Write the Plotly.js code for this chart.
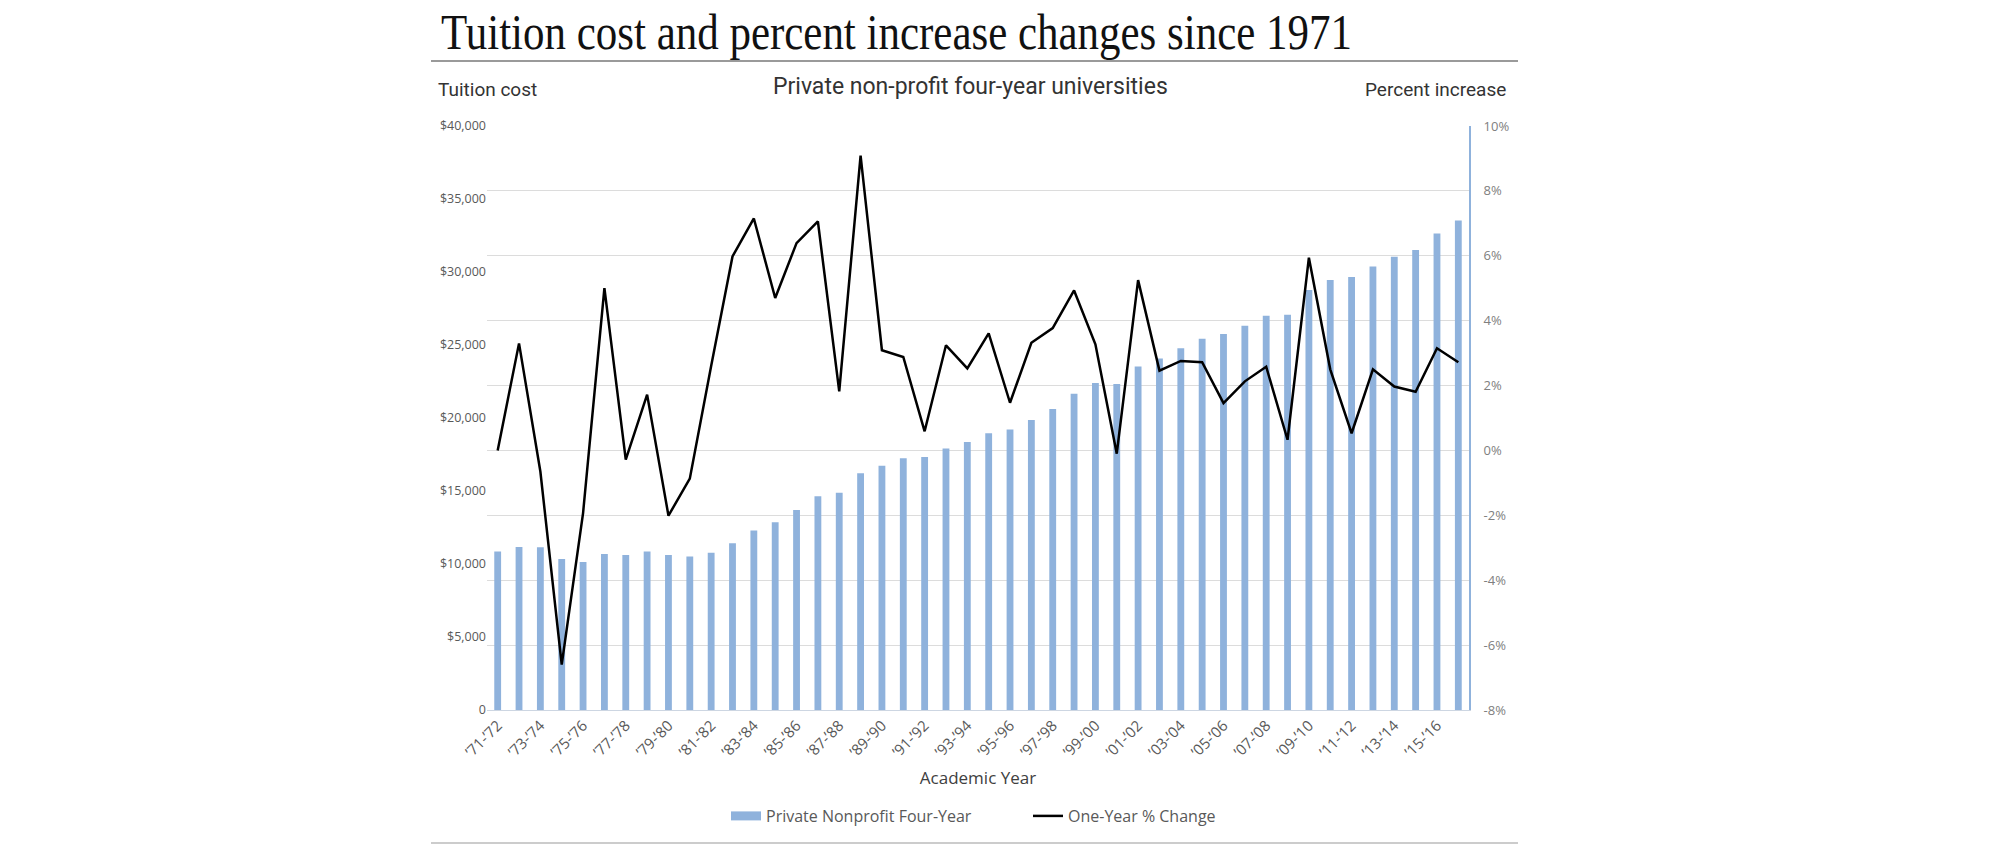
<!DOCTYPE html>
<html>
<head>
<meta charset="utf-8">
<script src="https://cdn.plot.ly/plotly-3.0.1.min.js"></script>
<style>
html,body{margin:0;padding:0;background:#fff;}
#chart{width:2000px;height:846px;}
</style>
</head>
<body>
<div id="chart"></div>
<script>
// ---------- data ----------
const categories = [
  "’71-’72","’72-’73","’73-’74","’74-’75","’75-’76","’76-’77","’77-’78","’78-’79","’79-’80","’80-’81",
  "’81-’82","’82-’83","’83-’84","’84-’85","’85-’86","’86-’87","’87-’88","’88-’89","’89-’90","’90-’91",
  "’91-’92","’92-’93","’93-’94","’94-’95","’95-’96","’96-’97","’97-’98","’98-’99","’99-’00","’00-’01",
  "’01-’02","’02-’03","’03-’04","’04-’05","’05-’06","’06-’07","’07-’08","’08-’09","’09-’10","’10-’11",
  "’11-’12","’12-’13","’13-’14","’14-’15","’15-’16","’16-’17"
];
const tuitionCost = [
  10850, 11160, 11140, 10350, 10140, 10690, 10610, 10850, 10610, 10510,
  10770, 11420, 12290, 12860, 13700, 14640, 14880, 16210, 16730, 17250,
  17330, 17910, 18350, 18950, 19220, 19870, 20620, 21660, 22390, 22330,
  23520, 24070, 24780, 25420, 25750, 26310, 27000, 27070, 28760, 29460,
  29650, 30380, 31050, 31500, 32640, 33520
];
const percentChange = [
  0.0, 3.3, -0.65, -6.6, -1.93, 5.0, -0.28, 1.72, -2.01, -0.87,
  2.6, 5.98, 7.15, 4.7, 6.39, 7.06, 1.82, 9.09, 3.09, 2.88,
  0.59, 3.24, 2.53, 3.61, 1.47, 3.32, 3.77, 4.93, 3.27, -0.1,
  5.25, 2.46, 2.76, 2.72, 1.46, 2.13, 2.58, 0.33, 5.94, 2.5,
  0.53, 2.5, 1.97, 1.81, 3.15, 2.72
];
const xTickLabels = [
  "’71-’72","’73-’74","’75-’76","’77-’78","’79-’80","’81-’82","’83-’84","’85-’86","’87-’88","’89-’90",
  "’91-’92","’93-’94","’95-’96","’97-’98","’99-’00","’01-’02","’03-’04","’05-’06","’07-’08","’09-’10",
  "’11-’12","’13-’14","’15-’16"
];
const leftTickVals = [0, 5000, 10000, 15000, 20000, 25000, 30000, 35000, 40000];
const leftTickText = ["0", "$5,000", "$10,000", "$15,000", "$20,000", "$25,000", "$30,000", "$35,000", "$40,000"];
const rightTickVals = [-8, -6, -4, -2, 0, 2, 4, 6, 8, 10];
const rightTickText = ["-8%", "-6%", "-4%", "-2%", "0%", "2%", "4%", "6%", "8%", "10%"];

// ---------- geometry ----------
const W = 2000, H = 846;
const L = 487, R = 1469, T = 126, B = 710;
const px = X => (X - L) / (R - L);
const py = Y => (B - Y) / (B - T);

const sansNarrow = '"Liberation Sans Narrow", "Arial Narrow", "Roboto", sans-serif';
const sans = '"Open Sans", "Noto Sans", sans-serif';

const data = [
  {
    type: 'bar',
    x: categories,
    y: tuitionCost,
    name: 'Private Nonprofit Four-Year',
    marker: {color: '#8fb2dc'},
    yaxis: 'y',
    hoverinfo: 'skip'
  },
  {
    type: 'scatter',
    mode: 'lines',
    x: categories,
    y: percentChange,
    name: 'One-Year % Change',
    line: {color: '#000000', width: 2.5},
    yaxis: 'y2',
    hoverinfo: 'skip'
  }
];

const layout = {
  width: W, height: H,
  margin: {l: L, r: W - R, t: T, b: H - B, pad: 0},
  paper_bgcolor: '#ffffff',
  plot_bgcolor: '#ffffff',
  font: {family: sans, color: '#595959'},
  showlegend: true,
  bargap: 0.68,
  title: {
    text: 'Tuition cost and percent increase changes since 1971',
    font: {family: '"Liberation Serif", "DejaVu Serif", serif', size: 50, color: '#111111'},
    xref: 'container', yref: 'container',
    x: 441 / W, xanchor: 'left',
    y: 1 - 31.5 / H, yanchor: 'middle'
  },
  xaxis: {
    type: 'category',
    range: [-0.5, categories.length - 0.5],
    tickmode: 'array',
    tickvals: xTickLabels,
    ticktext: xTickLabels,
    tickangle: -45,
    tickfont: {family: sans, size: 15, color: '#595959'},
    showgrid: false,
    zeroline: false,
    showline: true,
    linecolor: '#cdd6e2',
    linewidth: 1,
    ticks: '',
    title: {text: 'Academic Year', standoff: 12, font: {family: sans, size: 17, color: '#404040'}},
    fixedrange: true
  },
  yaxis: {
    range: [0, 40000],
    tickmode: 'array',
    tickvals: leftTickVals,
    ticktext: leftTickText,
    showgrid: false,
    zeroline: false,
    showline: false,
    ticks: '',
    tickfont: {family: sans, size: 12.5, color: '#595959'},
    fixedrange: true
  },
  yaxis2: {
    overlaying: 'y',
    side: 'right',
    range: [-8, 10],
    tickmode: 'array',
    tickvals: rightTickVals,
    ticktext: rightTickText,
    showgrid: true,
    gridcolor: '#dcdcdc',
    gridwidth: 1,
    zeroline: false,
    showline: true,
    linecolor: '#8fb2dc',
    linewidth: 2,
    ticks: '',
    ticklabelstandoff: 10,
    tickfont: {family: sans, size: 13, color: '#808080'},
    fixedrange: true
  },
  legend: {
    orientation: 'h',
    x: px(726), xanchor: 'left',
    y: py(816), yanchor: 'middle',
    font: {family: sans, size: 16, color: '#595959'},
    itemwidth: 30,
    entrywidth: 257,
    traceorder: 'normal',
    bgcolor: 'rgba(0,0,0,0)'
  },
  shapes: [
    {type: 'line', xref: 'paper', yref: 'paper', x0: px(431), x1: px(1518), y0: py(61), y1: py(61),
     line: {color: '#9a9a9a', width: 2}},
    {type: 'line', xref: 'paper', yref: 'paper', x0: px(431), x1: px(1518), y0: py(843), y1: py(843),
     line: {color: '#cccccc', width: 2}}
  ],
  annotations: [
    {text: 'Tuition cost', xref: 'paper', yref: 'paper', x: px(436), xanchor: 'left', y: py(90), yanchor: 'middle',
     showarrow: false, font: {family: sansNarrow, size: 19, color: '#333333'}},
    {text: 'Private non-profit four-year universities', xref: 'paper', yref: 'paper', x: px(970), xanchor: 'center', y: py(87), yanchor: 'middle',
     showarrow: false, font: {family: sansNarrow, size: 23, color: '#333333'}},
    {text: 'Percent increase', xref: 'paper', yref: 'paper', x: px(1508), xanchor: 'right', y: py(90), yanchor: 'middle',
     showarrow: false, font: {family: sansNarrow, size: 19, color: '#333333'}}
  ]
};

Plotly.newPlot('chart', data, layout, {displayModeBar: false, staticPlot: true}).then(gd => {
  try {
    const t = gd.querySelector('.gtitle');
    if (t) {
      t.setAttribute('textLength', '911');
      t.setAttribute('lengthAdjust', 'spacingAndGlyphs');
    }
    const items = gd.querySelectorAll('.legend .traces');
    if (items[0]) {
      const p = items[0].querySelector('.legendpoints path');
      if (p) p.setAttribute('d', 'M-15,4.5H15V-4.5H-15Z');
    }
  } catch (e) {}
});
</script>
</body>
</html>
